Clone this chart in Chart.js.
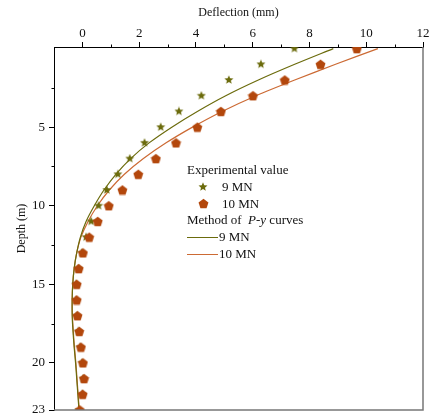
<!DOCTYPE html>
<html>
<head>
<meta charset="utf-8">
<script src="https://cdn.jsdelivr.net/npm/chart.js@4"></script>
<style>
  html, body { margin: 0; padding: 0; background: #fff; }
  #wrap { position: relative; width: 433px; height: 416px; }
  #legend {
    position: absolute; left: 187px; top: 162px;
    font-family: "Liberation Serif", serif; font-size: 13px; color: #111;
  }
  #legend .row { height: 16.8px; line-height: 16.8px; white-space: nowrap; display: flex; align-items: center; }
  #legend .icon { width: 32px; height: 16px; display: flex; align-items: center; justify-content: center; }
  #legend .line { width: 31px; height: 0; border-top: 1.3px solid; margin-right: 1px; }
  #legend .txt { margin-left: 3px; }
</style>
</head>
<body>
<div id="wrap">
  <canvas id="chart" width="433" height="416"></canvas>
  <div id="legend"></div>
</div>
<script>
// ================= DATA =================
const depth = [0,1,2,3,4,5,6,7,8,9,10,11,12,13,14,15,16,17,18,19,20,21,22,23];

// experimental deflections (mm)
const exp9  = [7.47,6.29,5.16,4.19,3.40,2.76,2.19,1.67,1.25,0.86,0.57,0.31,0.13,-0.02,-0.14,-0.22,-0.22,-0.20,-0.14,-0.08,-0.01,0.03,0.00,-0.12];
const exp10 = [9.67,8.39,7.13,6.01,4.88,4.05,3.30,2.59,1.97,1.41,0.93,0.54,0.24,0.02,-0.13,-0.20,-0.20,-0.17,-0.11,-0.05,0.02,0.06,0.01,-0.09];

// P-y curve method (mm)
const py9  = [8.84,7.48,6.20,5.05,4.05,3.15,2.35,1.70,1.18,0.76,0.42,0.13,-0.07,-0.20,-0.29,-0.34,-0.36,-0.36,-0.33,-0.29,-0.24,-0.20,-0.16,-0.12];
const py10 = [10.41,8.92,7.48,6.12,4.92,3.88,2.95,2.15,1.48,0.95,0.53,0.20,-0.05,-0.20,-0.29,-0.34,-0.36,-0.35,-0.32,-0.28,-0.23,-0.19,-0.15,-0.11];

const xTicks = [0,2,4,6,8,10,12];
const xMinor = [1,3,5,7,9,11];
const yTicks = [5,10,15,20,23];
const yMinor = [2.5,7.5,12.5,17.5];

const olive = "#6b6b0c";
const rust = "#b3470c";
const orangeLine = "#cc6a34";

// ================= MARKERS =================
function makeStar(color, size) {
  const c = document.createElement("canvas");
  c.width = size; c.height = size;
  const g = c.getContext("2d");
  const r = size / 2, ri = r * 0.42;
  g.fillStyle = color;
  g.beginPath();
  for (let i = 0; i < 10; i++) {
    const rad = i % 2 ? ri : r - 0.3;
    const a = -Math.PI / 2 + i * Math.PI / 5;
    g.lineTo(r + rad * Math.cos(a), r + rad * Math.sin(a));
  }
  g.closePath(); g.fill();
  return c;
}

function makePentagon(color, size) {
  const c = document.createElement("canvas");
  c.width = size; c.height = size;
  const g = c.getContext("2d");
  const r = size / 2;
  g.fillStyle = color;
  g.beginPath();
  for (let i = 0; i < 5; i++) {
    const a = -Math.PI / 2 + i * 2 * Math.PI / 5;
    g.lineTo(r + (r - 0.3) * Math.cos(a), r + 0.5 + (r - 0.3) * Math.sin(a));
  }
  g.closePath(); g.fill();
  return c;
}

const starIcon = makeStar(olive, 10);
const pentIcon = makePentagon(rust, 11);

function pts(vals) {
  return depth.map((d, i) => ({ x: vals[i], y: d }));
}

// ================= PLUGIN: box + minor ticks =================
const frame = {
  id: "frame",
  afterDraw(chart) {
    const { ctx, chartArea: a, scales } = chart;
    ctx.save();
    ctx.strokeStyle = "#777";
    ctx.lineWidth = 1.5;
    ctx.beginPath();
    ctx.moveTo(a.right, a.top);
    ctx.lineTo(a.right, a.bottom);
    ctx.lineTo(a.left, a.bottom);
    ctx.stroke();

    ctx.strokeStyle = "#000";
    ctx.lineWidth = 1;
    ctx.beginPath();
    xMinor.forEach(v => {
      const px = Math.round(scales.x.getPixelForValue(v)) + 0.5;
      ctx.moveTo(px, a.top);
      ctx.lineTo(px, a.top - 2.5);
    });
    yMinor.forEach(v => {
      const py = Math.round(scales.y.getPixelForValue(v)) + 0.5;
      ctx.moveTo(a.left, py);
      ctx.lineTo(a.left - 2.5, py);
    });
    ctx.stroke();
    ctx.restore();
  }
};

// ================= CHART =================
Chart.defaults.font.family = "'Liberation Serif', 'Times New Roman', serif";
Chart.defaults.color = "#111";

new Chart(document.getElementById("chart"), {
  type: "scatter",
  data: {
    datasets: [
      { label: "10 MN", data: pts(exp10), pointStyle: pentIcon, pointRadius: 5, showLine: false },
      { label: "9 MN", data: pts(exp9), pointStyle: starIcon, pointRadius: 5, showLine: false },
      { label: "9 MN", data: pts(py9), showLine: true, borderColor: olive, borderWidth: 1.2, pointRadius: 0, tension: 0.3 },
      { label: "10 MN", data: pts(py10), showLine: true, borderColor: orangeLine, borderWidth: 1.2, pointRadius: 0, tension: 0.3 }
    ]
  },
  options: {
    responsive: false,
    animation: false,
    layout: { padding: { left: 0, top: 0, right: 10, bottom: 6 } },
    plugins: { legend: { display: false }, tooltip: { enabled: false } },
    scales: {
      x: {
        type: "linear",
        position: "top",
        min: -1, max: 12,
        afterBuildTicks: s => { s.ticks = xTicks.map(v => ({ value: v })); },
        afterFit: s => { s.height = 47; s.paddingLeft = 0; s.paddingRight = 0; },
        ticks: { font: { size: 13 }, padding: 1 },
        grid: { drawOnChartArea: false, drawTicks: true, tickLength: 5, color: "#000" },
        border: { display: true, color: "#000", width: 1 },
        title: { display: true, text: "Deflection (mm)", font: { size: 12 }, padding: { top: 6, bottom: 0 } }
      },
      y: {
        type: "linear",
        reverse: true,
        min: -0.1, max: 23,
        afterBuildTicks: s => { s.ticks = yTicks.map(v => ({ value: v })); },
        afterFit: s => { s.width = 54; s.paddingTop = 0; s.paddingBottom = 0; },
        ticks: { font: { size: 13 }, padding: 4 },
        grid: { drawOnChartArea: false, drawTicks: true, tickLength: 5, color: "#000" },
        border: { display: true, color: "#000", width: 1 },
        title: { display: true, text: "Depth (m)", font: { size: 12 }, padding: { top: 15, bottom: 0 } }
      }
    }
  },
  plugins: [frame]
});

// ================= LEGEND =================
const legendRows = [
  { head: "Experimental value" },
  { icon: starIcon, text: "9 MN" },
  { icon: pentIcon, text: "10 MN" },
  { head: "Method of &nbsp;<i>P</i>-<i>y</i> curves" },
  { line: olive, text: "9 MN" },
  { line: orangeLine, text: "10 MN" }
];

const legend = document.getElementById("legend");
legendRows.forEach(r => {
  const row = document.createElement("div");
  row.className = "row";
  if (r.head) {
    const h = document.createElement("span");
    h.innerHTML = r.head;
    row.appendChild(h);
  } else if (r.icon) {
    const box = document.createElement("div");
    box.className = "icon";
    const c = document.createElement("canvas");
    c.width = r.icon.width; c.height = r.icon.height;
    c.getContext("2d").drawImage(r.icon, 0, 0);
    box.appendChild(c);
    row.appendChild(box);
    const t = document.createElement("span");
    t.className = "txt";
    t.textContent = r.text;
    row.appendChild(t);
  } else {
    const l = document.createElement("div");
    l.className = "line";
    l.style.borderColor = r.line;
    row.appendChild(l);
    const t = document.createElement("span");
    t.textContent = r.text;
    row.appendChild(t);
  }
  legend.appendChild(row);
});
</script>
</body>
</html>
